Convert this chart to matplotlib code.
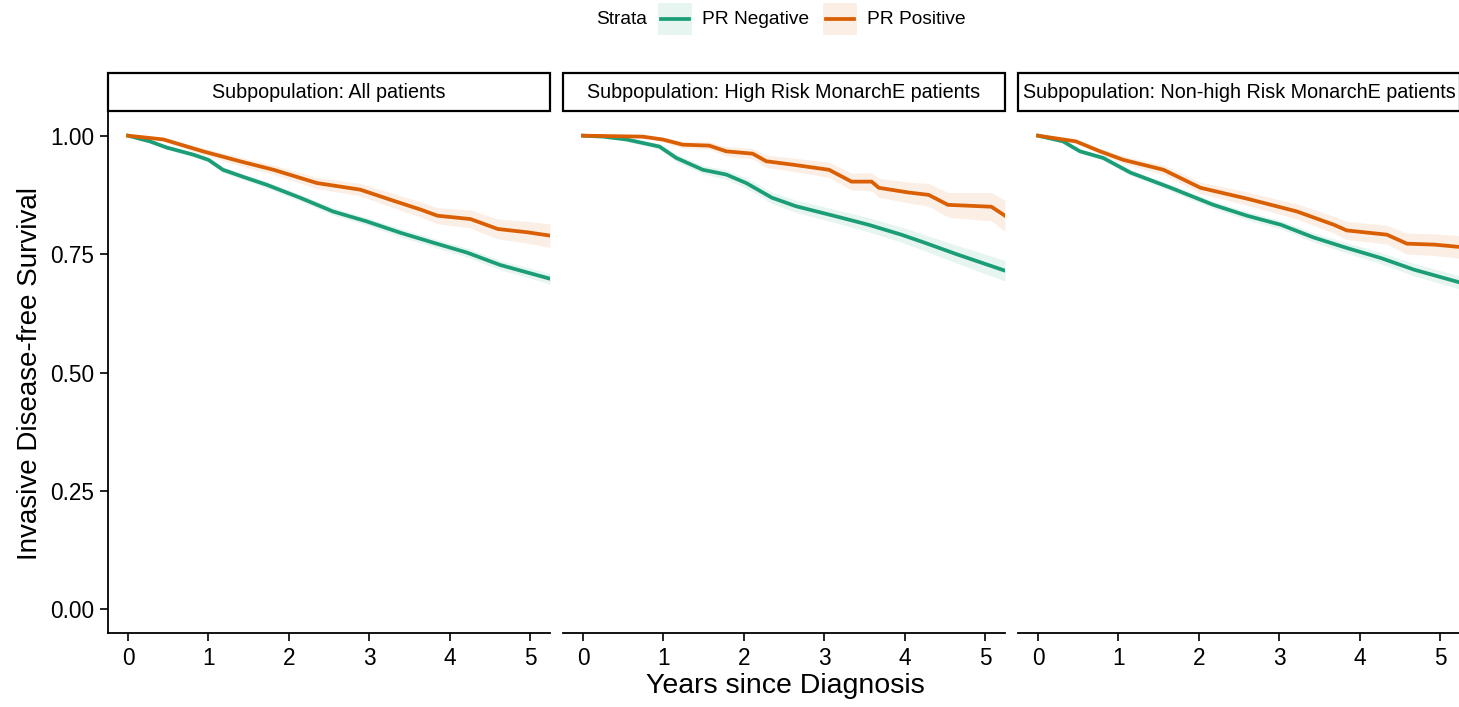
import matplotlib.pyplot as plt
from matplotlib.patches import Rectangle
from matplotlib.lines import Line2D

plt.rcParams['font.family'] = ['Liberation Sans', 'DejaVu Sans']

GREEN = '#1B9E77'
ORANGE = '#D95F02'

panel_titles = ['Subpopulation: All patients',
                'Subpopulation: High Risk MonarchE patients',
                'Subpopulation: Non-high Risk MonarchE patients']
strata = ['PR Negative', 'PR Positive']

# survival curves (years, survival, CI half-width)
all_neg_t = [0, 0.27, 0.48, 0.81, 1.0, 1.18, 1.45, 1.73, 2.14, 2.55, 2.97, 3.39, 3.8, 4.22, 4.63, 5.25]
all_neg_s = [1.0, 0.988, 0.975, 0.96, 0.949, 0.928, 0.912, 0.896, 0.869, 0.840, 0.819, 0.795, 0.774, 0.753, 0.727, 0.698]
all_neg_ci = [0, 0.003, 0.004, 0.005, 0.005, 0.006, 0.006, 0.007, 0.007, 0.008, 0.008, 0.009, 0.009, 0.010, 0.010, 0.011]
all_pos_t = [0, 0.44, 0.93, 1.39, 1.81, 2.35, 2.89, 3.26, 3.64, 3.85, 4.26, 4.6, 4.97, 5.25]
all_pos_s = [1.0, 0.992, 0.967, 0.946, 0.928, 0.90, 0.886, 0.865, 0.844, 0.831, 0.824, 0.803, 0.796, 0.789]
all_pos_ci = [0, 0.004, 0.007, 0.009, 0.010, 0.012, 0.013, 0.015, 0.016, 0.017, 0.019, 0.021, 0.023, 0.025]

hr_neg_t = [0, 0.25, 0.54, 0.95, 1.16, 1.49, 1.78, 2.03, 2.35, 2.65, 3.14, 3.55, 3.96, 4.25, 4.66, 5.25]
hr_neg_s = [1.0, 0.998, 0.992, 0.977, 0.953, 0.928, 0.918, 0.90, 0.869, 0.851, 0.830, 0.812, 0.791, 0.774, 0.749, 0.715]
hr_neg_ci = [0, 0.002, 0.004, 0.006, 0.008, 0.009, 0.010, 0.011, 0.012, 0.013, 0.014, 0.015, 0.016, 0.017, 0.019, 0.022]
hr_pos_t = [0, 0.74, 0.99, 1.24, 1.57, 1.78, 2.11, 2.28, 2.6, 3.06, 3.34, 3.59, 3.68, 4.05, 4.3, 4.54, 5.08, 5.25]
hr_pos_s = [1.0, 0.998, 0.992, 0.981, 0.979, 0.967, 0.962, 0.946, 0.939, 0.928, 0.903, 0.903, 0.89, 0.880, 0.875, 0.854, 0.850, 0.831]
hr_pos_ci = [0, 0.003, 0.005, 0.007, 0.008, 0.010, 0.011, 0.013, 0.014, 0.016, 0.018, 0.019, 0.020, 0.022, 0.024, 0.026, 0.030, 0.033]

nh_neg_t = [0, 0.31, 0.52, 0.81, 1.15, 1.65, 2.18, 2.6, 3.02, 3.43, 3.84, 4.26, 4.68, 5.25]
nh_neg_s = [1.0, 0.988, 0.967, 0.953, 0.922, 0.89, 0.854, 0.831, 0.812, 0.785, 0.763, 0.742, 0.717, 0.690]
nh_neg_ci = [0, 0.003, 0.004, 0.005, 0.006, 0.007, 0.008, 0.009, 0.009, 0.010, 0.011, 0.012, 0.013, 0.014]
nh_pos_t = [0, 0.47, 0.77, 1.06, 1.56, 2.02, 2.6, 3.22, 3.68, 3.84, 4.34, 4.59, 4.93, 5.25]
nh_pos_s = [1.0, 0.988, 0.967, 0.949, 0.928, 0.89, 0.867, 0.840, 0.812, 0.80, 0.791, 0.772, 0.770, 0.765]
nh_pos_ci = [0, 0.004, 0.006, 0.008, 0.010, 0.012, 0.014, 0.016, 0.018, 0.019, 0.020, 0.022, 0.023, 0.024]

panels = [
    [(all_neg_t, all_neg_s, all_neg_ci), (all_pos_t, all_pos_s, all_pos_ci)],
    [(hr_neg_t, hr_neg_s, hr_neg_ci), (hr_pos_t, hr_pos_s, hr_pos_ci)],
    [(nh_neg_t, nh_neg_s, nh_neg_ci), (nh_pos_t, nh_pos_s, nh_pos_ci)],
]

W, H = 1459, 707
fig = plt.figure(figsize=(W / 100, H / 100), dpi=100)


def fx(px):
    return px / W


def fy(py):
    return 1 - py / H


lefts = [108, 563, 1018]
pw = 442
top, bottom = 112, 633

for i, (left, curves, title) in enumerate(zip(lefts, panels, panel_titles)):
    ax = fig.add_axes([fx(left), fy(bottom), pw / W, (bottom - top) / H])
    for (t, s, ci), col in zip(curves, [GREEN, ORANGE]):
        lo = [a - b for a, b in zip(s, ci)]
        hi = [a + b for a, b in zip(s, ci)]
        ax.fill_between(t, lo, hi, color=col, alpha=0.1, lw=0)
        ax.plot(t, s, color=col, lw=2.7, solid_joinstyle='miter')
    ax.set_xlim(-0.25, 5.25)
    ax.set_ylim(-0.05, 1.05)
    ax.set_xticks([0, 1, 2, 3, 4, 5])
    for sp in ['top', 'right']:
        ax.spines[sp].set_visible(False)
    ax.spines['bottom'].set_linewidth(1.3)
    ax.spines['left'].set_linewidth(1.3)
    ax.tick_params(axis='both', length=6, width=1.2, labelsize=16.3, pad=4, colors='black')
    if i == 0:
        ax.set_yticks([0, 0.25, 0.5, 0.75, 1.0])
        ax.set_yticklabels(['0.00', '0.25', '0.50', '0.75', '1.00'])
    else:
        ax.spines['left'].set_visible(False)
        ax.set_yticks([])
    # strip above panel
    fig.patches.append(Rectangle((fx(left), fy(111)), pw / W, 38 / H,
                                 transform=fig.transFigure, facecolor='white',
                                 edgecolor='black', lw=1.6))
    fig.text(fx(left + pw / 2), fy(93), title, ha='center', va='center', fontsize=14.2)

fig.text(fx(30), fy(374), 'Invasive Disease-free Survival', rotation=90,
         ha='center', va='center', fontsize=20)
fig.text(fx(785), fy(686), 'Years since Diagnosis', ha='center', va='center', fontsize=20.5)

# legend
fig.text(fx(596), fy(19), 'Strata', ha='left', va='center', fontsize=13.8)
for key_x, col, lab in zip([658, 823], [GREEN, ORANGE], strata):
    fig.patches.append(Rectangle((fx(key_x), fy(35)), 34 / W, 32 / H,
                                 transform=fig.transFigure, facecolor=col,
                                 alpha=0.1, lw=0))
    fig.add_artist(Line2D([fx(key_x + 3), fx(key_x + 31)], [fy(19), fy(19)],
                          transform=fig.transFigure, color=col, lw=2.7))
    fig.text(fx(key_x + 44), fy(19), lab, ha='left', va='center', fontsize=13.8)

fig.savefig('out.png', dpi=100)
